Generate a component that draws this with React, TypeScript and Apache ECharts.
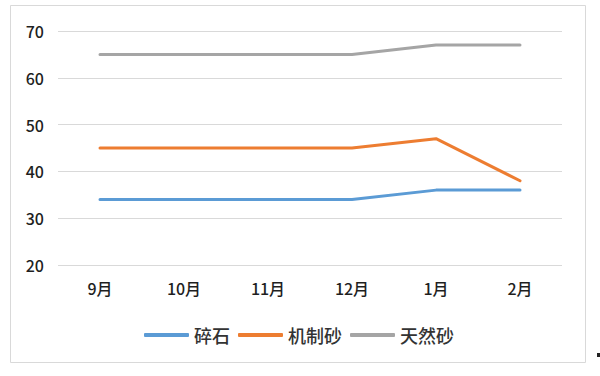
import React, { useEffect, useRef } from "react";
import * as echarts from "echarts";

const categories = ["9月", "10月", "11月", "12月", "1月", "2月"];
const seriesNames = ["碎石", "机制砂", "天然砂"];
const gravel = [34, 34, 34, 34, 36, 36];
const machineSand = [45, 45, 45, 45, 47, 38];
const naturalSand = [65, 65, 65, 65, 67, 67];
const colors = ["#5b9bd5", "#ed7d31", "#a5a5a5"];

const FONT = "'Noto Sans CJK SC', 'Noto Sans', sans-serif";

export default function App() {
  const ref = useRef<HTMLDivElement>(null);
  useEffect(() => {
    if (!ref.current) return;
    const chart = echarts.init(ref.current, undefined, { renderer: "svg" });
    const data = [gravel, machineSand, naturalSand];
    chart.setOption({
      animation: false,
      backgroundColor: "#ffffff",
      textStyle: { fontFamily: FONT },
      graphic: [
        {
          type: "rect",
          shape: { x: 10.5, y: 5.5, width: 575, height: 357 },
          style: { fill: "none", stroke: "#d9d9d9", lineWidth: 1 },
          silent: true,
        },
        {
          type: "rect",
          shape: { x: 597, y: 353, width: 3, height: 4 },
          style: { fill: "#222222" },
          silent: true,
        },
      ],
      grid: { left: 58, right: 38, top: 31, bottom: 111, containLabel: false },
      legend: {
        data: seriesNames,
        left: 139,
        top: 321,
        icon: "roundRect",
        itemWidth: 45,
        itemHeight: 4,
        itemGap: 8,
        textStyle: { fontSize: 18, color: "#333333", fontFamily: FONT, fontWeight: 500 },
      },
      xAxis: {
        type: "category",
        data: categories,
        boundaryGap: true,
        axisLine: { show: false },
        axisTick: { show: false },
        axisLabel: { fontSize: 16, color: "#1f1f1f", margin: 15, fontFamily: FONT, fontWeight: 500 },
      },
      yAxis: {
        type: "value",
        min: 20,
        max: 70,
        interval: 10,
        axisLine: { show: false },
        axisTick: { show: false },
        axisLabel: { fontSize: 16, color: "#1f1f1f", margin: 14, fontFamily: FONT, fontWeight: 500 },
        splitLine: { lineStyle: { color: "#d9d9d9", width: 1 } },
      },
      series: seriesNames.map((name, i) => ({
        name,
        type: "line",
        data: data[i],
        showSymbol: false,
        symbol: "none",
        color: colors[i],
        lineStyle: { width: 3, color: colors[i], cap: "round", join: "round" },
      })),
    });
    return () => chart.dispose();
  }, []);
  return (
    <div
      ref={ref}
      style={{ position: "fixed", left: 0, top: 0, width: 600, height: 376 }}
    />
  );
}
